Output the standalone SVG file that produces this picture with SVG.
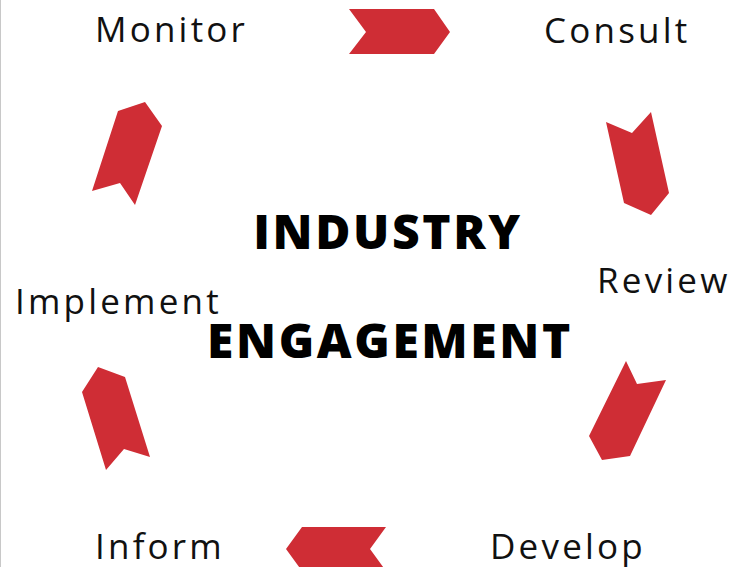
<svg xmlns="http://www.w3.org/2000/svg" width="742" height="567" viewBox="0 0 742 567">
<style>
.lbl{font-family:"Open Sans","Liberation Sans",sans-serif;font-size:35px;fill:#111;letter-spacing:3.2px}
.ttl{font-family:"Open Sans","Liberation Sans",sans-serif;font-size:48px;font-weight:800;fill:#000;letter-spacing:2.6px;text-anchor:middle}
.arr{fill:#cf2d35}
</style>
<rect width="742" height="567" fill="#fff"/>
<line x1="0.5" y1="0" x2="0.5" y2="567" stroke="#c8c8c8" stroke-width="1"/>
<g id="title">
<text class="ttl" x="388" y="249">INDUSTRY</text>
<text class="ttl" x="390" y="358">ENGAGEMENT</text>
</g>
<g id="monitor"><text class="lbl" x="95" y="42">Monitor</text></g>
<g id="consult"><text class="lbl" x="544" y="43">Consult</text></g>
<g id="review"><text class="lbl" x="597" y="293">Review</text></g>
<g id="implement"><text class="lbl" x="15" y="314">Implement</text></g>
<g id="inform"><text class="lbl" x="95" y="559">Inform</text></g>
<g id="develop"><text class="lbl" x="490" y="559">Develop</text></g>
<g id="connectors">
<polygon class="arr" points="349,9 434,9 450,32 434,54 349,54 366,32"/>
<polygon class="arr" points="606,122 632,133 651,112 669,193 651,215 624,203"/>
<polygon class="arr" points="626,361 637,384 666,380 630,456 602,460 589,436"/>
<polygon class="arr" points="386,527 302,527 286,549 302,571 386,571 370,549"/>
<polygon class="arr" points="98,367 125,377 150,457 124,449 106,470 82,392"/>
<polygon class="arr" points="145,102 162,126 135,205 120,183 92,191 118,111"/>
</g>
</svg>
